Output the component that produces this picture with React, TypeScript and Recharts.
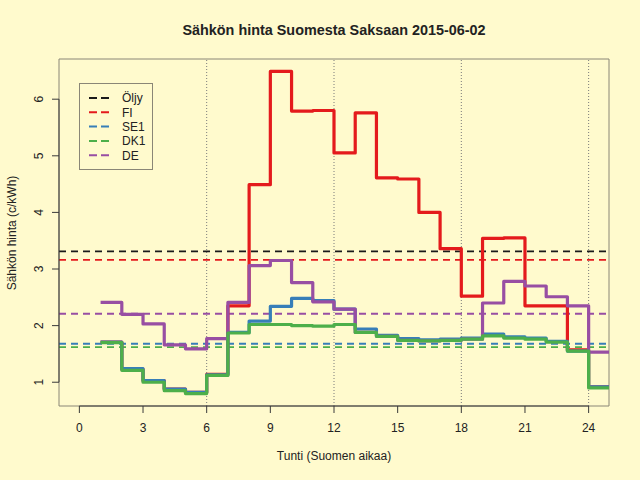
import React from 'react';
import { ComposedChart, Line, XAxis, YAxis, ReferenceLine, ReferenceArea, Legend } from 'recharts';

// hourly prices c/kWh, 2015-06-02 (hour index 1..24)
const HOURS = [1, 2, 3, 4, 5, 6, 7, 8, 9, 10, 11, 12, 13, 14, 15, 16, 17, 18, 19, 20, 21, 22, 23, 24];
const FI = [1.71, 1.23, 1.03, 0.88, 0.82, 1.14, 2.35, 4.49, 6.49, 5.79, 5.8, 5.05, 5.76, 4.61, 4.59, 4.0, 3.36, 2.52, 3.54, 3.55, 2.35, 2.35, 1.57, 0.92];
const SE1 = [1.71, 1.24, 1.03, 0.88, 0.82, 1.13, 1.88, 2.08, 2.34, 2.48, 2.44, 2.29, 1.94, 1.83, 1.77, 1.75, 1.76, 1.78, 1.85, 1.8, 1.78, 1.72, 1.55, 0.92];
const DK1 = [1.7, 1.21, 1.0, 0.85, 0.8, 1.12, 1.87, 2.02, 2.02, 2.0, 1.99, 2.02, 1.88, 1.81, 1.74, 1.73, 1.74, 1.76, 1.82, 1.78, 1.76, 1.71, 1.55, 0.9];
const DE = [2.41, 2.2, 2.03, 1.66, 1.59, 1.77, 2.41, 3.06, 3.15, 2.76, 2.42, 2.29, 1.88, 1.81, 1.74, 1.73, 1.74, 1.76, 2.4, 2.78, 2.7, 2.51, 2.35, 1.53];

// legend / reference levels (Öljy = oil price level, others = daily means)
const NAMES = ['Öljy', 'FI', 'SE1', 'DK1', 'DE'];
const COLORS = ['#1a1a1a', '#E41A1C', '#377EB8', '#4DAF4A', '#984EA3'];
const LEVELS = [3.31, 3.16, 1.68, 1.62, 2.21];

const X_TICKS = [0, 3, 6, 9, 12, 15, 18, 21, 24];
const DAY_MARKS = [6, 12, 18, 24];
const Y_TICKS = [1, 2, 3, 4, 5, 6];
const X_DOMAIN = [-0.96, 24.96];
const Y_DOMAIN = [0.58, 6.71];

const SERIES: Record<string, number[]> = { FI, SE1, DK1, DE };
const DRAW_ORDER = ['FI', 'SE1', 'DE', 'DK1'];

const data = HOURS.map((h, i) => ({ hour: h, FI: FI[i], SE1: SE1[i], DK1: DK1[i], DE: DE[i] }));
// extra row so the last step runs on to the edge
data.push({ ...data[data.length - 1], hour: HOURS[HOURS.length - 1] + 1 });

const FONT = '"Liberation Sans", Arial, sans-serif';
const BG = '#FFFACD';
const INK = '#222';
const AXIS = '#3a3a3a';
const BOX = '#8a8676';

const XTick = (p: any) => (
  <text x={p.x} y={p.y + 19} textAnchor="middle" fontSize={12} fontFamily={FONT} fill={INK}>
    {p.payload.value}
  </text>
);

const YTick = (p: any) => (
  <text transform={`translate(${p.x - 9},${p.y}) rotate(-90)`} textAnchor="middle" fontSize={12} fontFamily={FONT} fill={INK}>
    {p.payload.value}
  </text>
);

const LegendBox = () => (
  <svg width={74} height={87} style={{ display: 'block' }}>
    <rect x={0.5} y={0.5} width={73} height={86} fill="none" stroke={BOX} strokeWidth={1} />
    {NAMES.map((n, i) => (
      <g key={n}>
        <line x1={10} x2={30} y1={15 + i * 14.3} y2={15 + i * 14.3} stroke={COLORS[i]} strokeWidth={2} strokeDasharray="8 4" />
        <text x={43} y={15 + i * 14.3} dy="0.36em" fontSize={12} fontFamily={FONT} fill={INK}>
          {n}
        </text>
      </g>
    ))}
  </svg>
);

export default function App() {
  return (
    <div style={{ width: 640, height: 480, background: BG, position: 'relative' }}>
      <style>{'body{margin:0;background:' + BG + ';}'}</style>
      <ComposedChart width={640} height={480} data={data} margin={{ top: 59, right: 31, bottom: 0, left: 0 }}>
        <XAxis
          dataKey="hour"
          type="number"
          domain={X_DOMAIN}
          ticks={X_TICKS}
          interval={0}
          allowDataOverflow
          height={74}
          axisLine={false}
          tickSize={7}
          tickMargin={0}
          tickLine={{ stroke: AXIS }}
          tick={XTick}
          label={() => (
            <g fontFamily={FONT} fill={INK}>
              <text x={334} y={35} textAnchor="middle" fontSize={14.4} fontWeight="bold">
                Sähkön hinta Suomesta Saksaan 2015-06-02
              </text>
              <text x={334} y={460} textAnchor="middle" fontSize={12}>
                Tunti (Suomen aikaa)
              </text>
            </g>
          )}
        />
        <YAxis
          type="number"
          domain={Y_DOMAIN}
          ticks={Y_TICKS}
          interval={0}
          allowDataOverflow
          width={59}
          axisLine={false}
          tickSize={7}
          tickMargin={0}
          tickLine={{ stroke: AXIS }}
          tick={YTick}
          label={() => (
            <text transform="translate(15.5,233) rotate(-90)" textAnchor="middle" fontSize={12} fontFamily={FONT} fill={INK}>
              Sähkön hinta (c/kWh)
            </text>
          )}
        />
        {DAY_MARKS.map((h) => (
          <ReferenceLine key={'d' + h} x={h} stroke="#7a7a7a" strokeWidth={1} strokeDasharray="1 2" />
        ))}
        {NAMES.map((n, i) => (
          <ReferenceLine key={'l' + n} y={LEVELS[i]} stroke={COLORS[i]} strokeWidth={1.8} strokeDasharray="7 5" />
        ))}
        {DRAW_ORDER.map((k) => (
          <Line
            key={k}
            dataKey={k}
            data={undefined}
            type="stepAfter"
            stroke={COLORS[NAMES.indexOf(k)]}
            strokeWidth={3.2}
            strokeLinejoin="round"
            dot={false}
            activeDot={false}
            isAnimationActive={false}
          />
        ))}
        <ReferenceArea x1={X_DOMAIN[0]} x2={X_DOMAIN[1]} y1={Y_DOMAIN[0]} y2={Y_DOMAIN[1]} fill="none" stroke={BOX} strokeWidth={1} ifOverflow="visible" />
        <ReferenceLine
          segment={[{ x: X_TICKS[0], y: Y_DOMAIN[0] }, { x: X_TICKS[X_TICKS.length - 1], y: Y_DOMAIN[0] }]}
          stroke={AXIS}
          strokeWidth={1}
          ifOverflow="visible"
        />
        <ReferenceLine
          segment={[{ x: X_DOMAIN[0], y: Y_TICKS[0] }, { x: X_DOMAIN[0], y: Y_TICKS[Y_TICKS.length - 1] }]}
          stroke={AXIS}
          strokeWidth={1}
          ifOverflow="visible"
        />
        <Legend
          layout="vertical"
          align="center"
          verticalAlign="middle"
          content={LegendBox}
          wrapperStyle={{ left: 79, top: 83, width: 74, height: 87, lineHeight: 0 }}
        />
      </ComposedChart>
    </div>
  );
}
